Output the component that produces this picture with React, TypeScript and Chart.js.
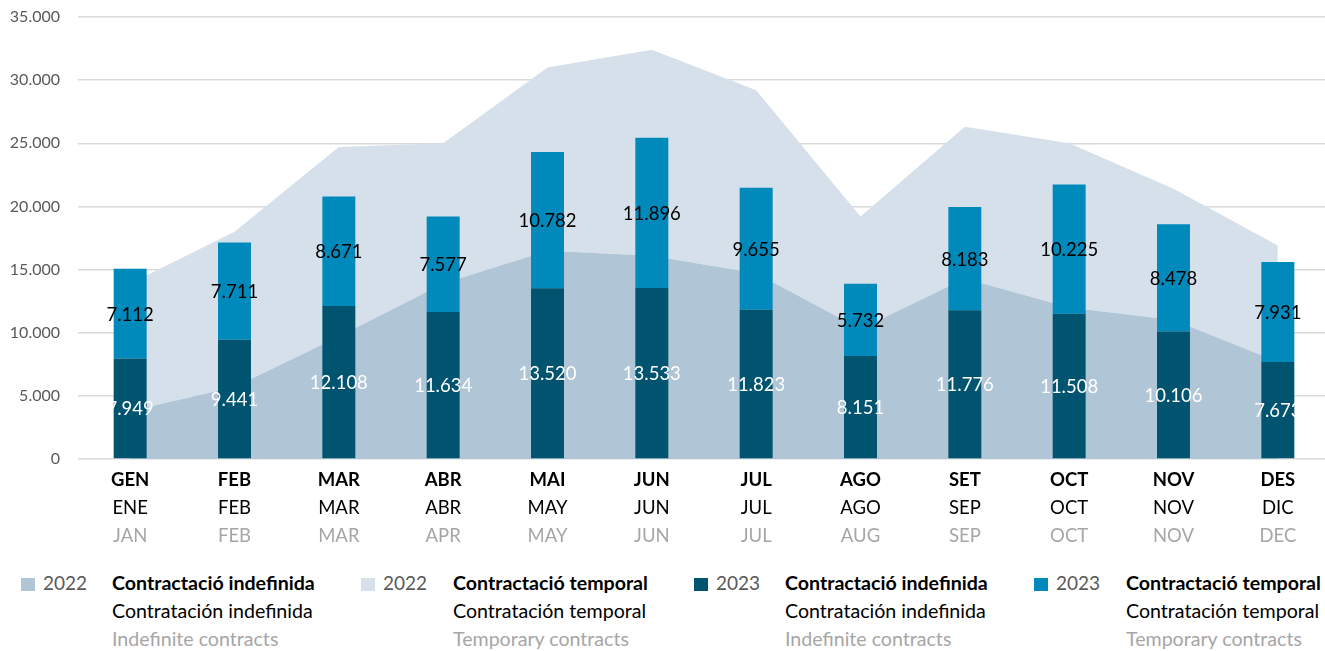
import React, { useEffect, useRef } from 'react';
import { Chart, registerables } from 'chart.js';
Chart.register(...registerables);

const monthsCA = ['GEN', 'FEB', 'MAR', 'ABR', 'MAI', 'JUN', 'JUL', 'AGO', 'SET', 'OCT', 'NOV', 'DES'];
const monthsES = ['ENE', 'FEB', 'MAR', 'ABR', 'MAY', 'JUN', 'JUL', 'AGO', 'SEP', 'OCT', 'NOV', 'DIC'];
const monthsEN = ['JAN', 'FEB', 'MAR', 'APR', 'MAY', 'JUN', 'JUL', 'AUG', 'SEP', 'OCT', 'NOV', 'DEC'];

const indef2023 = [7949, 9441, 12108, 11634, 13520, 13533, 11823, 8151, 11776, 11508, 10106, 7673];
const temp2023 = [7112, 7711, 8671, 7577, 10782, 11896, 9655, 5732, 8183, 10225, 8478, 7931];
const indef2022 = [3800, 5700, 9700, 13900, 16500, 16100, 14700, 10300, 14300, 12000, 11000, 7700];
const temp2022 = [10100, 12300, 15000, 11100, 14500, 16300, 14500, 8900, 12000, 13000, 10400, 9200];

const yMin = 0;
const yMax = 35000;
const yStep = 5000;

const COL_IND22 = '#b0c5d6';
const COL_TMP22 = '#d6e0ea';
const COL_IND23 = '#00546f';
const COL_TMP23 = '#0089bb';

const fmt = (v: number) => String(Math.round(v)).replace(/\B(?=(\d{3})+(?!\d))/g, '.');

const xLabelsPlugin = {
  id: 'xLabels3',
  afterDraw(chart: any) {
    const ctx = chart.ctx;
    const xs = chart.scales.x;
    const bottom = chart.chartArea.bottom;
    ctx.save();
    ctx.textAlign = 'center';
    ctx.textBaseline = 'middle';
    monthsCA.forEach((m, i) => {
      const x = xs.getPixelForValue(i);
      ctx.font = 'bold 18.5px Lato';
      ctx.fillStyle = '#000000';
      ctx.fillText(m, x, bottom + 21);
      ctx.font = '18.5px Lato';
      ctx.fillStyle = '#000000';
      ctx.fillText(monthsES[i], x, bottom + 49);
      ctx.fillStyle = '#a6a6a6';
      ctx.fillText(monthsEN[i], x, bottom + 77);
    });
    ctx.restore();
  },
};

const barLabelsPlugin = {
  id: 'barLabels',
  afterDatasetsDraw(chart: any) {
    const ctx = chart.ctx;
    ctx.save();
    ctx.textAlign = 'center';
    ctx.textBaseline = 'middle';
    ctx.font = '18.5px Lato';
    [0, 1].forEach((di) => {
      const meta = chart.getDatasetMeta(di);
      const data = chart.data.datasets[di].data as number[];
      meta.data.forEach((el: any, i: number) => {
        const p = el.getProps(['x', 'y', 'base'], true);
        ctx.fillStyle = di === 0 ? '#ffffff' : '#000000';
        ctx.fillText(fmt(data[i]), p.x, (p.y + p.base) / 2 + 1);
      });
    });
    ctx.restore();
  },
};

const legendItems = [
  { color: COL_IND22, year: '2022', ca: 'Contractació indefinida', es: 'Contratación indefinida', en: 'Indefinite contracts', sq: 21, tx: 112 },
  { color: COL_TMP22, year: '2022', ca: 'Contractació temporal', es: 'Contratación temporal', en: 'Temporary contracts', sq: 361, tx: 453 },
  { color: COL_IND23, year: '2023', ca: 'Contractació indefinida', es: 'Contratación indefinida', en: 'Indefinite contracts', sq: 694, tx: 785 },
  { color: COL_TMP23, year: '2023', ca: 'Contractació temporal', es: 'Contratación temporal', en: 'Temporary contracts', sq: 1034, tx: 1126 },
];

export default function App() {
  const ref = useRef<HTMLCanvasElement | null>(null);
  useEffect(() => {
    if (!ref.current) return;
    Chart.defaults.font.family = 'Lato';
    const chart = new Chart(ref.current, {
      type: 'bar',
      data: {
        labels: monthsCA,
        datasets: [
          { type: 'bar', label: '2023 indefinida', data: indef2023, backgroundColor: COL_IND23, stack: 'b23', order: 0, barPercentage: 0.316, categoryPercentage: 1 } as any,
          { type: 'bar', label: '2023 temporal', data: temp2023, backgroundColor: COL_TMP23, stack: 'b23', order: 0, barPercentage: 0.316, categoryPercentage: 1 } as any,
          { type: 'line', label: '2022 indefinida', data: indef2022, backgroundColor: COL_IND22, borderColor: 'transparent', borderWidth: 0, pointRadius: 0, fill: 'origin', tension: 0, stack: 'a22', order: 1 } as any,
          { type: 'line', label: '2022 temporal', data: temp2022, backgroundColor: COL_TMP22, borderColor: 'transparent', borderWidth: 0, pointRadius: 0, fill: '-1', tension: 0, stack: 'a22', order: 1 } as any,
        ],
      },
      options: {
        responsive: false,
        animation: false,
        layout: { padding: { top: 17, bottom: 101, left: 0, right: 0 } },
        plugins: { legend: { display: false }, tooltip: { enabled: false } },
        scales: {
          x: { display: false, stacked: true, offset: true },
          y: {
            stacked: true,
            min: yMin,
            max: yMax,
            border: { display: false },
            grid: { color: '#d9d9d9', lineWidth: 1.5, drawTicks: false },
            ticks: { stepSize: yStep, padding: 18, color: '#595959', font: { size: 16, family: 'Lato' }, callback: (v: any) => fmt(Number(v)) },
            afterFit: (s: any) => { s.width = 78; s.paddingTop = 0; s.paddingBottom = 0; },
          },
        },
      },
      plugins: [xLabelsPlugin, barLabelsPlugin],
    });
    return () => chart.destroy();
  }, []);

  return (
    <div style={{ position: 'absolute', left: 0, top: 0, width: 1325, height: 651, overflow: 'hidden', background: '#ffffff', fontFamily: 'Lato' }}>
      <canvas ref={ref} width={1330} height={560} style={{ display: 'block', width: 1330, height: 560 }} />
      {legendItems.map((it, i) => (
        <React.Fragment key={i}>
          <div style={{ position: 'absolute', left: it.sq, top: 578, width: 14, height: 13, background: it.color }} />
          <div style={{ position: 'absolute', left: it.sq + 22, top: 569, lineHeight: '28px', fontSize: 19, color: '#595959' }}>{it.year}</div>
          <div style={{ position: 'absolute', left: it.tx, top: 569, lineHeight: '28px', fontSize: 19.6, whiteSpace: 'nowrap' }}>
            <div style={{ fontWeight: 'bold', color: '#000' }}>{it.ca}</div>
            <div style={{ color: '#000' }}>{it.es}</div>
            <div style={{ color: '#a6a6a6' }}>{it.en}</div>
          </div>
        </React.Fragment>
      ))}
    </div>
  );
}
